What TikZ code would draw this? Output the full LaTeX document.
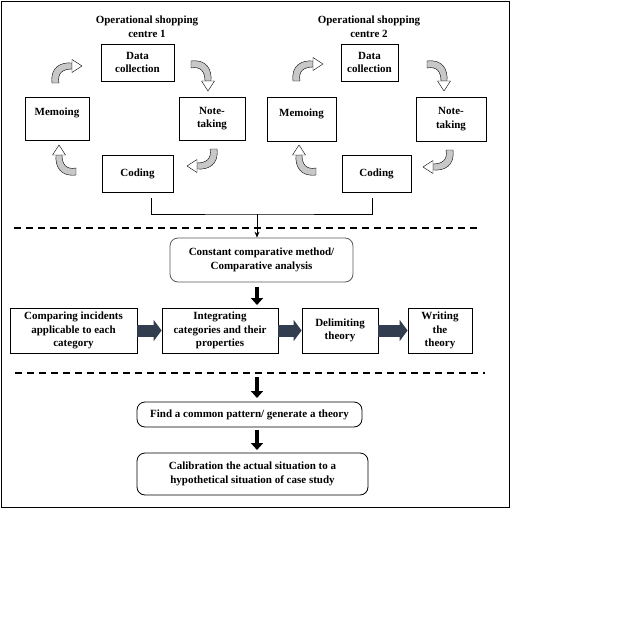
\documentclass[tikz,border=0pt]{standalone}
\usepackage{fontspec}
\setmainfont{Liberation Serif}
\usetikzlibrary{arrows.meta}
\definecolor{slate}{RGB}{50,62,80}
\definecolor{arrowgray}{RGB}{200,200,200}
\tikzset{curvarrow/.pic={
        \filldraw[fill=arrowgray,draw=black,line width=0.4pt] (-15,11) .. controls (-17,-5) and (-6,-10) .. (5,-9) -- (5,-3) .. controls (-4,-3) and (-10,1) .. (-8,11) -- cycle;
        \filldraw[fill=white,draw=black,line width=0.4pt] (5,-12.5) -- (15,-6) -- (5,0.5) -- cycle;
}}

\begin{document}
\begin{tikzpicture}[x=1pt,y=-1pt]
        \tikzstyle{txt}=[align=center,inner sep=1pt,font=\fontsize{11}{13.5}\selectfont\bfseries]
        \tikzstyle{box}=[txt,draw=black,line width=0.8pt]
        \tikzstyle{roundbox}=[box,rounded corners=8pt]
        \tikzstyle{fatarrow}=[line width=4pt,-{Triangle[length=7pt,width=12pt]}]
        \tikzstyle{blockarrow}=[slate,line width=12pt,-{Triangle[length=8pt,width=21pt]}]
        \tikzstyle{sep}=[line width=1.2pt,dash pattern=on 7pt off 5pt]

        \useasboundingbox (0,0) rectangle (637,634);
        \draw[line width=0.9pt] (1,1) rectangle (509,507);

        \node (ta)[txt] at (147,26.5) {Operational shopping\\centre 1};
        \node (tb)[txt] at (369,26.5) {Operational shopping\\centre 2};

        \node (dca)[box,minimum width=73pt,minimum height=37pt] at (137.5,62.5) {Data\\collection};
        \node (mea)[box,minimum width=64pt,minimum height=43pt] at (57,118.5) {Memoing\\~};
        \node (nta)[box,minimum width=66pt,minimum height=43pt] at (212,118.5) {Note-\\taking};
        \node (coa)[box,minimum width=71pt,minimum height=37pt] at (137.5,173.5) {Coding};

        \node (dcb)[box,minimum width=57pt,minimum height=37pt] at (369.5,62.5) {Data\\collection};
        \node (meb)[box,minimum width=69pt,minimum height=44pt] at (301.5,119) {Memoing\\~};
        \node (ntb)[box,minimum width=70pt,minimum height=44pt] at (451,119) {Note-\\taking};
        \node (cob)[box,minimum width=69pt,minimum height=37pt] at (376.5,173.5) {Coding};

        \foreach \cx/\cy/\rot in {67/72/0, 202/76/-90, 202/160/-180, 65/160/90, 308/70/0, 438/76/-90, 438/161/-180, 305/160/90}
                \pic[rotate=\rot] at (\cx,\cy) {curvarrow};

        \coordinate (jl) at (151,198);
        \coordinate (jr) at (372,198);
        \coordinate (j) at (257,214);
        \node (ccm)[roundbox,draw=black!65,minimum width=183pt,minimum height=44pt] at (261.5,260) {Constant comparative method/\\Comparative analysis};
        \draw[line width=1pt] (jl) |- (j) -| (jr);
        \draw[line width=0.8pt,-{Stealth[length=6pt,width=5pt]}] (j) -- (j |- ccm.north);

        \draw[sep] (14,228) -- (480,228);

        \node (cmp)[box,minimum width=127pt,minimum height=45pt] at (73.5,330.5) {Comparing incidents\\applicable to each\\category};
        \node (itg)[box,minimum width=116pt,minimum height=45pt] at (220,330.5) {Integrating\\categories and their\\properties};
        \node (dlm)[box,minimum width=76pt,minimum height=45pt] at (340,330.5) {Delimiting\\theory};
        \node (wrt)[box,minimum width=64pt,minimum height=45pt] at (440,330.5) {Writing\\the\\theory};

        \coordinate (ka) at (257,287);
        \coordinate (kb) at (257,305);
        \draw[fatarrow] (ka) -- (kb);

        \draw[blockarrow] (cmp.east) -- (itg.west);
        \draw[blockarrow] (itg.east) -- (dlm.west);
        \draw[blockarrow] (dlm.east) -- (wrt.west);

        \draw[sep] (15,373) -- (485,373);

        \node (fnd)[roundbox,minimum width=225pt,minimum height=25pt] at (249.5,414.5) {Find a common pattern/ generate a theory};
        \node (cal)[roundbox,minimum width=231pt,minimum height=42pt] at (252.5,474) {Calibration the actual situation to a\\hypothetical situation of case study};

        \coordinate (la) at (257,377);
        \coordinate (lb) at (257,398);
        \coordinate (lc) at (257,430);
        \coordinate (ld) at (257,450);
        \draw[fatarrow] (la) -- (lb);
        \draw[fatarrow] (lc) -- (ld);
\end{tikzpicture}
\end{document}
